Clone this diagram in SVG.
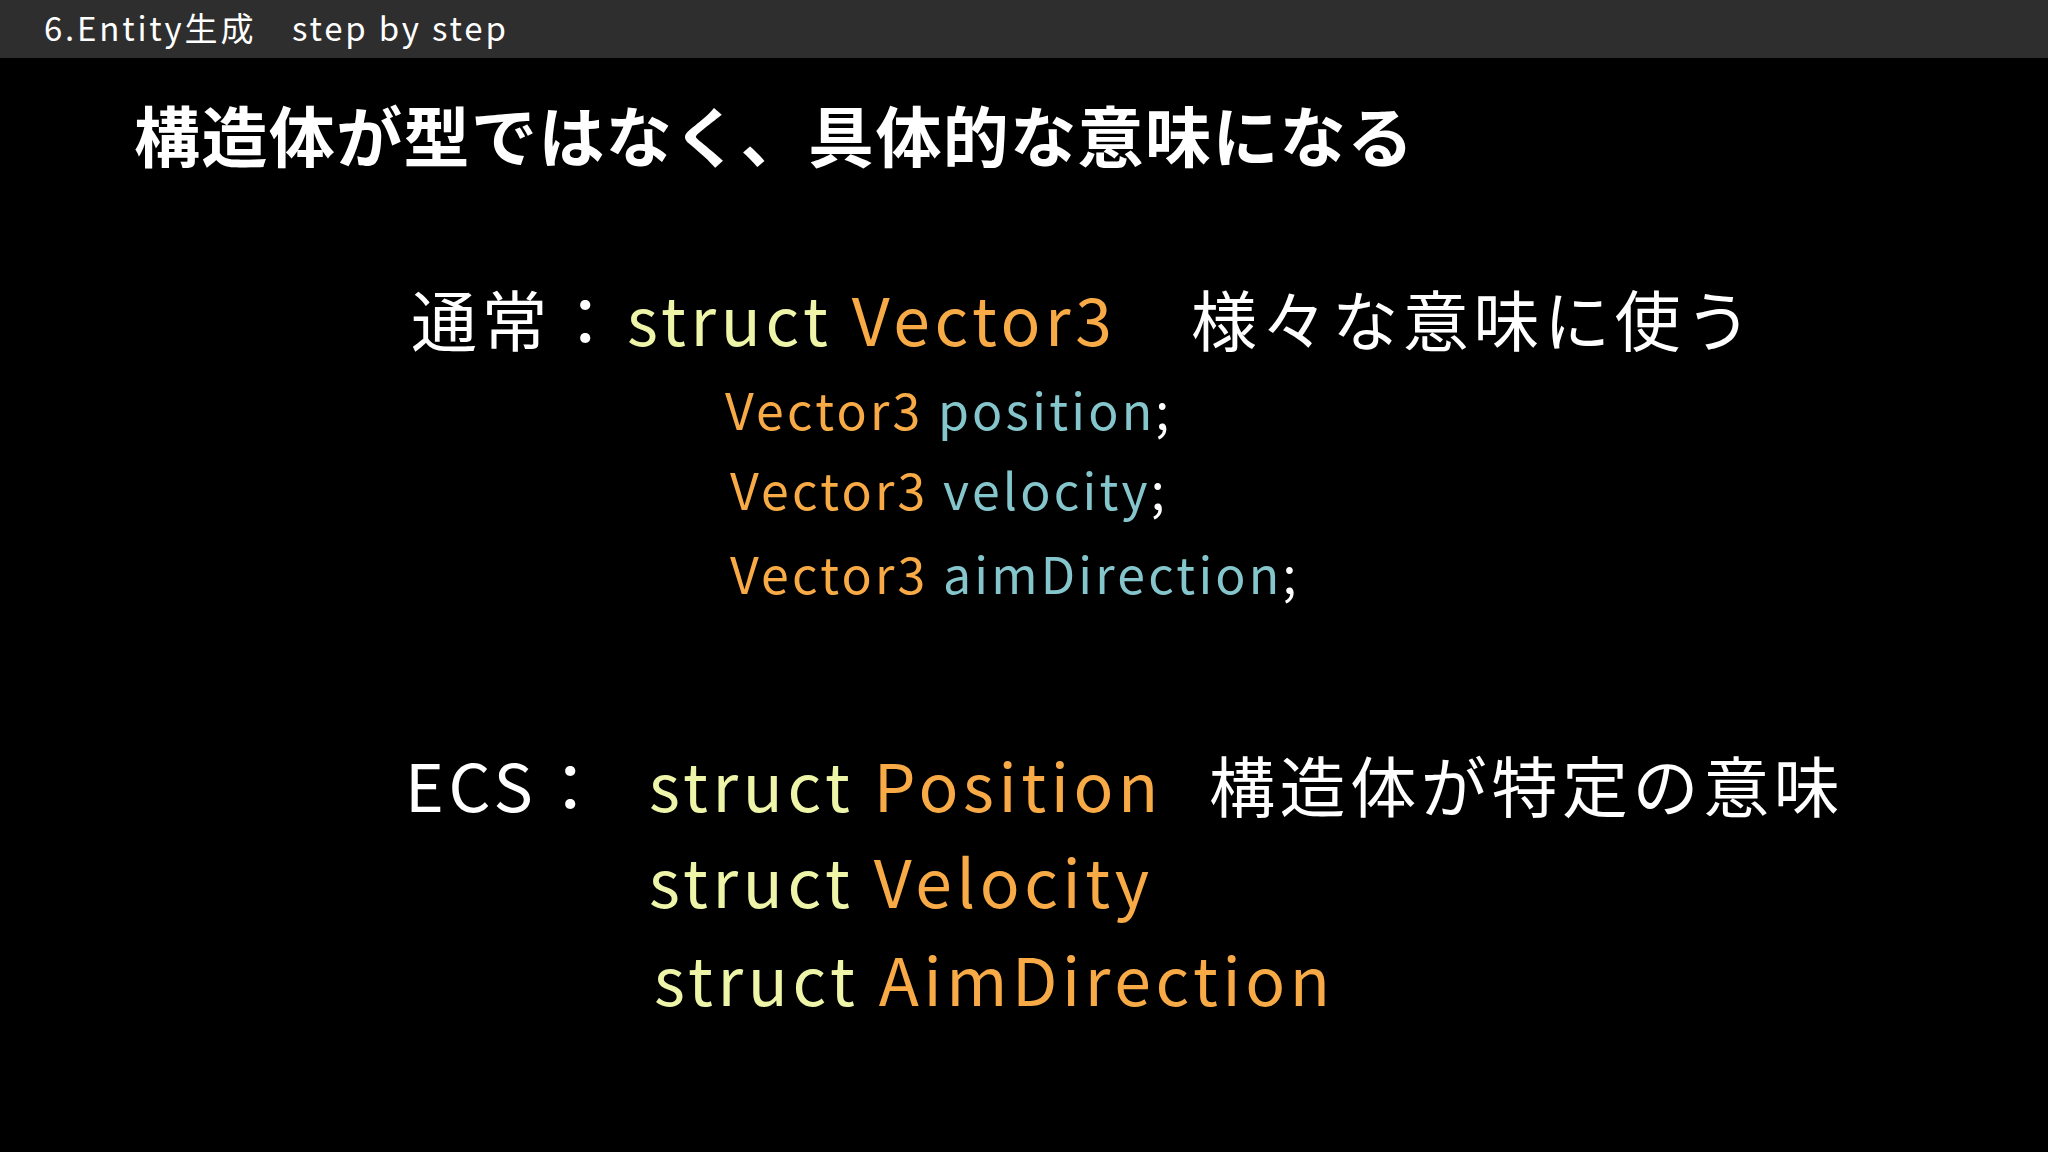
<svg xmlns="http://www.w3.org/2000/svg" width="2048" height="1152" viewBox="0 0 2048 1152">
<style>
text{font-family:"Noto Sans CJK JP","Noto Sans",sans-serif;fill:#fff}
.y{fill:#eef5a8}.o{fill:#f7aa45}.c{fill:#84c6cc}
.big{font-size:66px;letter-spacing:4.6px}
.mid{font-size:50px;letter-spacing:3.2px}
</style>
<rect width="2048" height="1152" fill="#000"/>
<rect width="2048" height="58" fill="#2e2e2e"/>
<text x="44" y="41" font-size="33" letter-spacing="2.8">6.Entity生成　step by step</text>
<text x="134" y="162" font-size="66" font-weight="bold" letter-spacing="1.4">構造体が型ではなく、具体的な意味になる</text>
<text x="411" y="346" class="big">通常：</text>
<text x="627" y="346" class="big"><tspan class="y">struct</tspan> <tspan class="o">Vector3</tspan></text>
<text x="1191" y="346" class="big">様々な意味に使う</text>
<text x="725" y="430" class="mid"><tspan class="o">Vector3</tspan> <tspan class="c">position</tspan>;</text>
<text x="730" y="510" class="mid"><tspan class="o">Vector3</tspan> <tspan class="c">velocity</tspan>;</text>
<text x="730" y="594" class="mid"><tspan class="o">Vector3</tspan> <tspan class="c">aimDirection</tspan>;</text>
<text x="405" y="812" class="big">ECS：</text>
<text x="649" y="812" class="big"><tspan class="y">struct</tspan> <tspan class="o">Position</tspan></text>
<text x="1209" y="812" class="big">構造体が特定の意味</text>
<text x="649" y="908" class="big"><tspan class="y">struct</tspan> <tspan class="o">Velocity</tspan></text>
<text x="654" y="1006" class="big"><tspan class="y">struct</tspan> <tspan class="o">AimDirection</tspan></text>
</svg>
